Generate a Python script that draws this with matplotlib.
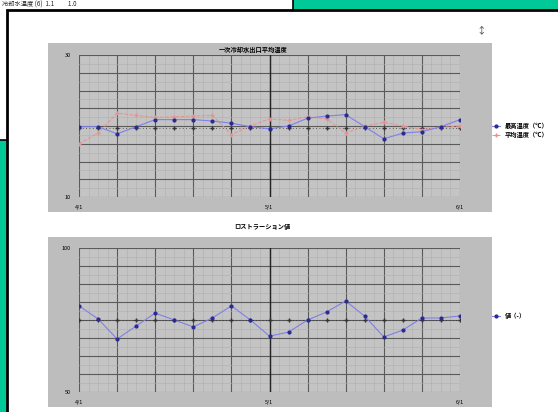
#!/usr/bin/env python
# Two trend charts (cooling water temperature and concentration) on a
# scanned report page, drawn with matplotlib.

import matplotlib.pyplot as plt
from matplotlib.patches import Rectangle
from matplotlib.ticker import MultipleLocator

plt.rcParams['font.family'] = ['Noto Sans CJK JP', 'DejaVu Sans']

W, H = 558, 412

# Data
points = list(range(21))
date_labels = ['4/1', '', '', '', '', '5/1', '', '', '', '', '6/1']

temp_max = [19.9, 19.9, 18.9, 19.9, 20.9, 20.9, 20.9, 20.7, 20.4, 19.9, 19.6,
            20.0, 21.1, 21.4, 21.6, 19.9, 18.2, 19.0, 19.2, 19.9, 20.9]
temp_avg = [17.5, 19.0, 21.8, 21.5, 21.2, 21.3, 21.4, 21.5, 18.8, 20.0, 21.0,
            20.8, 21.3, 21.0, 19.0, 20.0, 20.5, 20.0, 19.5, 19.8, 20.0]
temp_ref = [19.7] * 21

conc = [79.9, 75.4, 68.4, 72.9, 77.4, 75.0, 72.6, 75.7, 79.9, 75.0, 69.4,
        70.8, 75.0, 77.8, 81.6, 76.3, 69.1, 71.5, 75.7, 75.7, 76.4]
conc_ref = [75.0] * 21

TEAL = '#00c896'


def rect(x0, y0, x1, y1):
    # pixel box -> figure rect
    return [x0 / W, 1 - y1 / H, (x1 - x0) / W, (y1 - y0) / H]


fig = plt.figure(figsize=(W / 100, H / 100), dpi=100, facecolor=TEAL)

# page background drawn in pixel coordinates
bg = fig.add_axes([0, 0, 1, 1])
bg.set_xlim(0, W)
bg.set_ylim(H, 0)
bg.axis('off')
bg.add_patch(Rectangle((-2, -2), 295, 142, facecolor='white', edgecolor='black', lw=1.2))
bg.add_patch(Rectangle((7, 10), 560, 410, facecolor='white', edgecolor='black', lw=2))
bg.add_patch(Rectangle((48, 43), 444, 169, facecolor='#bdbdbd', edgecolor='none'))
bg.add_patch(Rectangle((48, 237), 444, 170, facecolor='#bdbdbd', edgecolor='none'))
bg.text(2, 5, '冷却水温度 (6)  1.1          1.0', fontsize=4.5, va='center', color='#222')
bg.text(481, 31, '↕', fontsize=7, ha='center', va='center', color='#444')
bg.text(253, 49, '一次冷却水出口平均温度', fontsize=4.5, ha='center', va='center', weight='bold')
bg.text(262, 226, 'ロストラーション値', fontsize=4.5, ha='center', va='center', weight='bold')


def style(ax, lo, hi):
    ax.set_facecolor('#c4c4c4')
    ax.set_xlim(0, 20)
    ax.set_ylim(lo, hi)
    ax.set_xticks(range(0, 21, 2))
    ax.set_xticklabels(date_labels)
    ax.xaxis.set_minor_locator(MultipleLocator(0.5))
    ax.set_yticks([lo + (hi - lo) * k / 8 for k in range(9)])
    ax.set_yticklabels([str(lo)] + [''] * 7 + [str(hi)])
    ax.yaxis.set_minor_locator(MultipleLocator((hi - lo) / 16))
    ax.grid(which='major', color='#5a5a5a', lw=0.8)
    ax.grid(which='minor', color='#b0b0b0', lw=0.4)
    ax.axvline(10, color='#222', lw=1)
    ax.tick_params(which='both', length=0, labelsize=4, pad=6)
    for s in ax.spines.values():
        s.set_visible(False)
    ax.set_axisbelow(True)


ax1 = fig.add_axes(rect(79, 55, 460, 197))
style(ax1, 10, 30)
ax1.plot(points, temp_ref, ls=(0, (1, 3)), color='#333', marker='+', ms=3, lw=0.6)
ax1.plot(points, temp_avg, ls='--', color='#e89090', marker='+', ms=3, lw=0.7,
         label='平均温度（℃）')
ax1.plot(points, temp_max, ls='-', color='#8080e8', marker='o', ms=2,
         mfc='#2a2a90', mec='#2a2a90', lw=0.8, label='最高温度（℃）')
h, l = ax1.get_legend_handles_labels()
ax1.legend(h[::-1], l[::-1], loc='center left', bbox_to_anchor=(1.07, 0.47),
           prop={'size': 4.5, 'weight': 'bold'}, frameon=False,
           handlelength=1.2, labelspacing=0.3)

ax2 = fig.add_axes(rect(79, 248, 460, 392))
style(ax2, 50, 100)
ax2.plot(points, conc_ref, ls=(0, (1, 3)), color='#333', marker='+', ms=3, lw=0.6)
ax2.plot(points, conc, ls='-', color='#8080e8', marker='o', ms=2,
         mfc='#2a2a90', mec='#2a2a90', lw=0.8, label='値（-）')
ax2.legend(loc='center left', bbox_to_anchor=(1.07, 0.53),
           prop={'size': 4.5, 'weight': 'bold'}, frameon=False, handlelength=1.2)

fig.savefig('out.png', dpi=100, facecolor=TEAL)
